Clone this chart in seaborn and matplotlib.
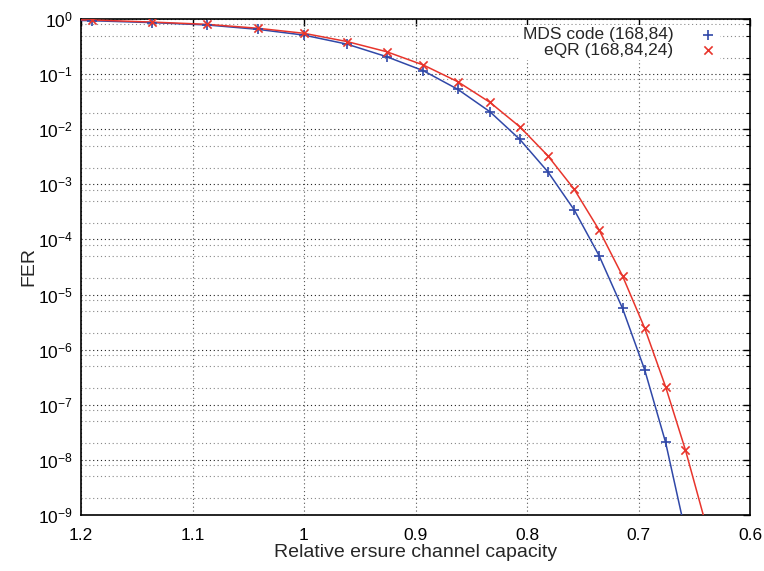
import numpy as np
import pandas as pd
import matplotlib
matplotlib.use("Agg")
import matplotlib.pyplot as plt
import matplotlib.ticker as mticker
import seaborn as sns

# ---- data ----
capacity = [1.1905, 1.1364, 1.0870, 1.0417, 1.0000, 0.9615, 0.9259, 0.8929,
            0.8621, 0.8333, 0.8065, 0.7813, 0.7576, 0.7353, 0.7143, 0.6944,
            0.6757, 0.6579]
mds_fer = [0.93, 0.86, 0.78, 0.65, 0.51, 0.35, 0.207, 0.115, 0.053, 0.0208,
           0.00656, 0.00169, 3.42e-4, 5.06e-5, 5.6e-6, 4.27e-7, 2.08e-8]
eqr_fer = [0.96, 0.88, 0.80, 0.68, 0.55, 0.39, 0.255, 0.146, 0.0728, 0.0308,
           0.0111, 0.0033, 8.1e-4, 1.48e-4, 2.17e-5, 2.44e-6, 2.12e-7, 1.51e-8]
# curve end points (where the fitted curves meet the plot frame)
mds_curve_ends_x = [1.2, 0.6613]
mds_curve_ends_y = [0.94, 1e-9]
eqr_curve_ends_x = [1.2, 0.6419]
eqr_curve_ends_y = [0.965, 1e-9]

x_ticks = [1.2, 1.1, 1.0, 0.9, 0.8, 0.7, 0.6]
y_ticks = [1e0, 1e-1, 1e-2, 1e-3, 1e-4, 1e-5, 1e-6, 1e-7, 1e-8, 1e-9]

mds_label = "MDS code (168,84)"
eqr_label = "eQR (168,84,24)"
x_label = "Relative ersure channel capacity"
y_label = "FER"

blue = "#3048a8"
red = "#e8352c"

sns.set_style("white")
plt.rcParams["font.family"] = ["Liberation Sans", "DejaVu Sans"]
plt.rcParams["mathtext.fontset"] = "custom"
plt.rcParams["mathtext.rm"] = "Liberation Sans"
plt.rcParams["mathtext.it"] = "Liberation Sans"

mds_pts = pd.DataFrame({"x": capacity[:len(mds_fer)], "y": mds_fer})
eqr_pts = pd.DataFrame({"x": capacity[:len(eqr_fer)], "y": eqr_fer})
mds_curve = pd.DataFrame({
    "x": [mds_curve_ends_x[0]] + capacity[:len(mds_fer)] + [mds_curve_ends_x[1]],
    "y": [mds_curve_ends_y[0]] + mds_fer + [mds_curve_ends_y[1]]})
eqr_curve = pd.DataFrame({
    "x": [eqr_curve_ends_x[0]] + capacity[:len(eqr_fer)] + [eqr_curve_ends_x[1]],
    "y": [eqr_curve_ends_y[0]] + eqr_fer + [eqr_curve_ends_y[1]]})

fig = plt.figure(figsize=(7.64, 5.71), dpi=100)
ax = fig.add_axes([81 / 764, 1 - 515 / 571, (750 - 81) / 764, (515 - 19) / 571])

ax.set_yscale("log")

sns.lineplot(data=mds_curve, x="x", y="y", ax=ax, color=blue, lw=1.1,
             sort=False, estimator=None, legend=False, zorder=3)
sns.lineplot(data=eqr_curve, x="x", y="y", ax=ax, color=red, lw=1.1,
             sort=False, estimator=None, legend=False, zorder=3)
sns.scatterplot(data=mds_pts, x="x", y="y", ax=ax, marker="+", color=blue,
                s=50, linewidth=1.2, label=mds_label, zorder=4)
sns.scatterplot(data=eqr_pts, x="x", y="y", ax=ax, marker="x", color=red,
                s=35, linewidth=1.2, label=eqr_label, zorder=4)

ax.set_xlim(1.2, 0.6)
ax.set_ylim(1e-9, 1)

ax.xaxis.set_major_locator(mticker.FixedLocator(x_ticks))
ax.xaxis.set_major_formatter(mticker.FuncFormatter(lambda v, p: f"{v:g}"))
ax.yaxis.set_major_locator(mticker.FixedLocator(y_ticks))
ax.yaxis.set_major_formatter(mticker.LogFormatterSciNotation())
ax.yaxis.set_minor_locator(mticker.LogLocator(base=10, subs=(2.0, 5.0, 8.0), numticks=20))
ax.yaxis.set_minor_formatter(mticker.NullFormatter())

ax.tick_params(which="both", direction="in", top=True, right=True,
               labelsize=12.5, colors="black")
ax.tick_params(which="major", length=5, width=1.0)
ax.tick_params(axis="x", which="major", pad=9)
ax.tick_params(axis="y", which="major", pad=6)
ax.tick_params(which="minor", length=3, width=0.8)
ax.tick_params(axis="x", which="minor", bottom=False, top=False)

ax.grid(True, which="major", axis="y", color="#222222", linestyle=(0, (1, 2.5)), lw=0.8)
ax.grid(True, which="minor", axis="y", color="#888888", linestyle=(0, (1, 2.5)), lw=0.8)
ax.grid(True, which="major", axis="x", color="#555555", linestyle=(0, (1, 2.5)), lw=0.8)
ax.set_axisbelow(True)

for sp in ax.spines.values():
    sp.set_color("black")
    sp.set_linewidth(1.2)

ax.set_xlabel(x_label, fontsize=14, labelpad=1)
ax.set_ylabel(y_label, fontsize=14, labelpad=0)

leg = ax.legend(loc="upper right", bbox_to_anchor=(0.9675, 1.006), markerfirst=False,
                frameon=True, fontsize=12.5, handletextpad=1.5, borderpad=0.15,
                labelspacing=0.0, handlelength=1.0, fancybox=False,
                alignment="right")
leg.get_frame().set_facecolor("white")
leg.get_frame().set_edgecolor("none")
leg.get_frame().set_alpha(1.0)
for t in leg.get_texts():
    t.set_ha("right")
leg.set_zorder(5)

fig.savefig("out.png", dpi=100)
